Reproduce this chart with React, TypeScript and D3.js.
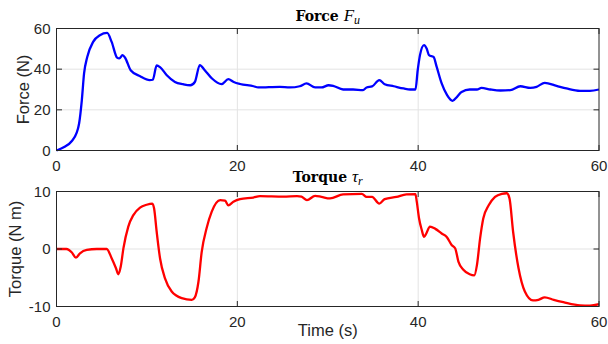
import React from "react";
import * as d3 from "d3";

const forceTime = [0, 0.9, 1.7, 2.2, 2.5, 2.8, 3.05, 3.4, 4.05, 4.8, 5.6, 6.1, 6.7, 6.95, 7.3, 7.6, 8.2, 9.25, 10.3, 10.65, 11.08, 11.45, 12.2, 13.1, 14.0, 14.8, 15.3, 15.85, 16.4, 17.2, 18.25, 19.0, 19.6, 20.3, 21.8, 22.3, 24.7, 25.8, 26.9, 27.65, 28.6, 29.3, 30.1, 30.6, 31.7, 32.8, 33.9, 34.3, 34.9, 35.7, 36.3, 37.3, 38.4, 39.1, 39.7, 39.95, 40.2, 40.65, 40.95, 41.2, 41.7, 42.05, 42.6, 43.2, 43.8, 44.3, 44.8, 45.7, 46.5, 47, 48, 49.1, 50.2, 51.3, 52.4, 53.1, 54, 55.3, 56.4, 57.9, 59, 60];
const forceValue = [0, 1.8, 4.7, 8.4, 13.3, 24.7, 37.9, 46, 53.4, 56.7, 57.8, 53.4, 45.7, 45.3, 46.9, 45.5, 39.5, 36.5, 34.6, 34.8, 41.8, 41, 37, 33.7, 32.6, 32.1, 33.7, 42, 39.5, 35.4, 32.6, 35.1, 33.7, 32.7, 31.6, 31, 31.3, 31, 31.6, 33, 31, 31, 32.1, 31.8, 30, 30, 29.7, 31, 31.5, 34.6, 32.6, 31.6, 30.5, 30, 30, 39.5, 46.9, 51.8, 50, 46.9, 46, 41.1, 33, 27.2, 24.4, 26.4, 28.8, 30, 30, 30.8, 30, 29.5, 29.7, 31.6, 30.8, 31.3, 33.3, 31.8, 30.5, 29.3, 29.3, 30];

const torqueTime = [0, 1.1, 1.7, 2.15, 2.6, 3.35, 4.45, 5.55, 6.1, 6.58, 6.84, 7.1, 7.4, 7.94, 8.5, 9.24, 9.97, 10.6, 10.8, 11.08, 11.45, 12.0, 12.74, 13.85, 14.96, 15.3, 15.7, 16.06, 16.6, 17.17, 18.1, 18.64, 19.0, 19.56, 20.3, 21.77, 22.5, 25.1, 26.6, 27.1, 27.7, 28.6, 29.3, 30.25, 31.7, 33.76, 34.3, 34.9, 35.7, 36.3, 37.6, 38.7, 39.7, 39.85, 40.1, 40.4, 40.65, 40.9, 41.3, 41.9, 42.6, 43.16, 43.7, 44.1, 44.45, 45, 45.7, 46.2, 46.5, 46.85, 47.2, 47.8, 48.5, 49.25, 49.8, 50.1, 50.5, 51.1, 51.8, 52.7, 53.3, 54, 55, 56.06, 57.9, 59, 60];
const torqueValue = [0, 0, -0.6, -1.5, -0.75, -0.17, 0, 0, -1.6, -3.35, -4.4, -3.1, 0.1, 3.9, 5.9, 7.2, 7.7, 7.9, 7, 3, -1.6, -5.1, -7.4, -8.55, -8.84, -8.4, -5.7, -0.5, 3.6, 6.5, 8.5, 8.4, 7.6, 8.2, 8.67, 8.95, 9.18, 9.1, 9.2, 9.1, 8.5, 9.24, 9.06, 8.8, 9.5, 9.6, 9.06, 9.06, 7.9, 8.67, 9.06, 9.5, 9.53, 8.2, 5.3, 3.3, 2.1, 2.7, 3.9, 3.5, 2.7, 2.1, 0.7, 0.1, -2.2, -3.6, -4.4, -4.6, -2.8, 1.85, 5.3, 7.6, 9.06, 9.6, 9.7, 8.8, 3, -3.35, -7.4, -8.95, -8.84, -8.4, -8.84, -9.24, -9.8, -9.85, -9.6];

const timeTicks = [0, 20, 40, 60];
const forceTicks = [0, 20, 40, 60];
const torqueTicks = [-10, 0, 10];

const W = 608;
const H = 344;
const LEFT = 56.5;
const RIGHT = 599;
const AXC = "#262626";
const GRID = "#e3e3e3";
const SANS = "'Liberation Sans', Arial, Helvetica, sans-serif";
const SERIF = "'DejaVu Serif', serif";
const TSERIF = "'Liberation Serif', 'Times New Roman', serif";

type PanelProps = {
  top: number;
  bottom: number;
  times: number[];
  values: number[];
  yDomain: [number, number];
  yTicks: number[];
  color: string;
  ylabel: string;
  ylabelX: number;
  title: React.ReactNode;
  titleY: number;
};

function Panel(p: PanelProps) {
  const x = d3.scaleLinear().domain([0, 60]).range([LEFT, RIGHT]);
  const y = d3.scaleLinear().domain(p.yDomain).range([p.bottom, p.top]);
  const pts = p.times.map((t, i) => [t, p.values[i]] as [number, number]);
  const line = d3
    .line<[number, number]>()
    .x((d) => x(d[0]))
    .y((d) => y(d[1]))
    .curve(d3.curveMonotoneX);
  const tl = 5.5;
  const midY = (p.top + p.bottom) / 2;
  return (
    <g>
      {timeTicks.slice(1, -1).map((t) => (
        <line key={"gx" + t} x1={x(t)} x2={x(t)} y1={p.top} y2={p.bottom} stroke={GRID} strokeWidth={1} />
      ))}
      {p.yTicks.slice(1, -1).map((v) => (
        <line key={"gy" + v} x1={LEFT} x2={RIGHT} y1={y(v)} y2={y(v)} stroke={GRID} strokeWidth={1} />
      ))}
      <path d={line(pts) || ""} fill="none" stroke={p.color} strokeWidth={2.3} strokeLinejoin="round" />
      <rect x={LEFT} y={p.top} width={RIGHT - LEFT} height={p.bottom - p.top} fill="none" stroke={AXC} strokeWidth={1} />
      {timeTicks.map((t) => (
        <g key={"tx" + t}>
          <line x1={x(t)} x2={x(t)} y1={p.bottom} y2={p.bottom - tl} stroke={AXC} />
          <line x1={x(t)} x2={x(t)} y1={p.top} y2={p.top + tl} stroke={AXC} />
          <text x={x(t)} y={p.bottom + 20.5} textAnchor="middle" fontFamily={SANS} fontSize={15} fill={AXC}>
            {t}
          </text>
        </g>
      ))}
      {p.yTicks.map((v) => (
        <g key={"ty" + v}>
          <line x1={LEFT} x2={LEFT + tl} y1={y(v)} y2={y(v)} stroke={AXC} />
          <line x1={RIGHT} x2={RIGHT - tl} y1={y(v)} y2={y(v)} stroke={AXC} />
          <text x={LEFT - 6} y={y(v) + 5.3} textAnchor="end" fontFamily={SANS} fontSize={15} fill={AXC}>
            {v}
          </text>
        </g>
      ))}
      <text
        transform={`translate(${p.ylabelX},${midY}) rotate(-90)`}
        textAnchor="middle"
        fontFamily={SANS}
        fontSize={16.5}
        fill={AXC}
      >
        {p.ylabel}
      </text>
      <text x={(LEFT + RIGHT) / 2} y={p.titleY} textAnchor="middle" fill="#000">
        {p.title}
      </text>
    </g>
  );
}

export default function App() {
  return (
    <svg width={W} height={H} style={{ position: "absolute", left: 0, top: 0, background: "#fff" }}>
      <rect x={0} y={0} width={W} height={H} fill="#fff" />
      <Panel
        top={28.5}
        bottom={150.5}
        times={forceTime}
        values={forceValue}
        yDomain={[0, 60]}
        yTicks={forceTicks}
        color="#0000ff"
        ylabel="Force (N)"
        ylabelX={28.5}
        titleY={21}
        title={
          <>
            <tspan fontFamily={SERIF} fontWeight="bold" fontSize={14}>Force </tspan>
            <tspan fontFamily={TSERIF} fontStyle="italic" fontSize={17}>F</tspan>
            <tspan fontFamily={TSERIF} fontStyle="italic" fontSize={12} dy={3}>u</tspan>
          </>
        }
      />
      <Panel
        top={191.5}
        bottom={306.5}
        times={torqueTime}
        values={torqueValue}
        yDomain={[-10, 10]}
        yTicks={torqueTicks}
        color="#ff0000"
        ylabel="Torque (N m)"
        ylabelX={20.5}
        titleY={182}
        title={
          <>
            <tspan fontFamily={SERIF} fontWeight="bold" fontSize={14}>Torque </tspan>
            <tspan fontFamily={TSERIF} fontStyle="italic" fontSize={17}>τ</tspan>
            <tspan fontFamily={TSERIF} fontStyle="italic" fontSize={12} dy={3}>r</tspan>
          </>
        }
      />
      <text x={(LEFT + RIGHT) / 2} y={336} textAnchor="middle" fontFamily={SANS} fontSize={16.5} fill={AXC}>
        Time (s)
      </text>
    </svg>
  );
}
